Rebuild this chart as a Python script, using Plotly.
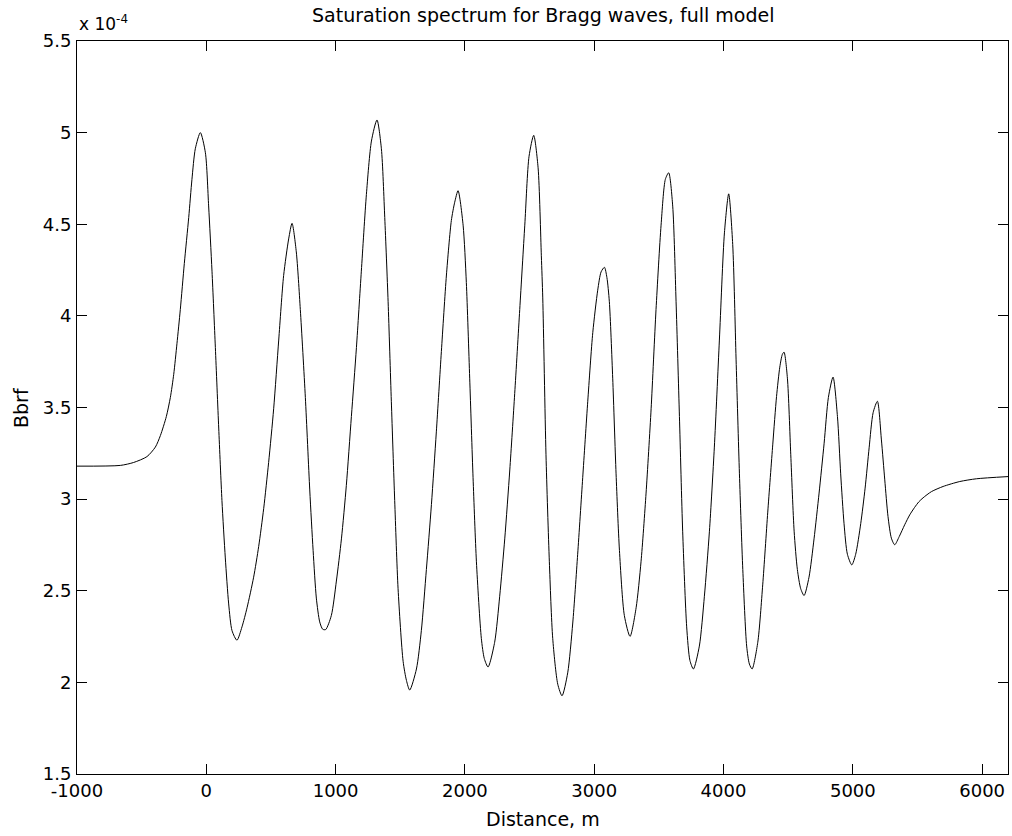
import numpy as np
import plotly.graph_objects as go

# distance along the profile, m
distance = [-1000, -665, -562, -459, -394, -355, -309, -278, -252, -227, -201, -170,
            -136, -111, -85, -46, -7, 18, 44, 70, 96, 121, 147, 173, 199, 237, 276,
            315, 366, 405, 444, 482, 521, 560, 598, 637, 663, 696, 727, 766,
            800, 826, 851, 877, 900, 923, 967, 1006, 1045, 1083, 1122, 1161, 1199, 1238,
            1277, 1320, 1354, 1380, 1406, 1431, 1457, 1483, 1522, 1548, 1573, 1625, 1663,
            1702, 1741, 1779, 1818, 1857, 1895, 1921, 1947, 1986, 2011, 2037, 2063, 2089,
            2127, 2150, 2179, 2230, 2269, 2308, 2347, 2385, 2424, 2463, 2496, 2532, 2566,
            2591, 2602, 2627, 2653, 2679, 2718, 2751, 2795, 2834, 2872, 2911, 2950,
            2989, 3027, 3053, 3079, 3098, 3117, 3143, 3169, 3195, 3233, 3277, 3324, 3362, 3401,
            3440, 3478, 3517, 3550, 3576, 3607, 3633, 3659, 3684, 3715, 3740, 3767, 3813,
            3852, 3891, 3929, 3968, 4007, 4040, 4071, 4097, 4123, 4149, 4179, 4200, 4221,
            4265, 4303, 4342, 4381, 4410, 4435, 4455, 4468, 4494, 4520, 4546, 4571, 4597,
            4623, 4661, 4700, 4739, 4778, 4811, 4847, 4881, 4906, 4932, 4958, 4992,
            5022, 5061, 5095, 5126, 5157, 5190, 5221, 5247, 5272, 5298, 5324, 5359, 5401,
            5440, 5478, 5510, 5543, 5608, 5698, 5827, 5956, 6200]

# Bbrf in units of 1e-4
bbrf_e4 = [3.180, 3.184, 3.200, 3.232, 3.284, 3.347, 3.451, 3.555, 3.681, 3.848, 4.035, 4.286,
           4.537, 4.745, 4.912, 5.000, 4.890, 4.600, 4.244, 3.827, 3.388, 2.992, 2.679, 2.428, 2.282, 2.230, 2.303,
           2.407, 2.574, 2.741, 2.950, 3.200, 3.493, 3.868, 4.220, 4.420, 4.505, 4.349, 4.035, 3.555,
           3.050, 2.720, 2.460, 2.330, 2.290, 2.288, 2.365, 2.553, 2.783, 3.075, 3.451, 3.827, 4.244, 4.662,
           4.954, 5.069, 4.912, 4.537, 4.077, 3.534, 2.992, 2.511, 2.115, 2.010, 1.958, 2.073, 2.282,
           2.616, 2.971, 3.367, 3.806, 4.223, 4.520, 4.620, 4.683, 4.495, 4.182, 3.660, 3.117, 2.658,
           2.240, 2.130, 2.084, 2.219, 2.470, 2.783, 3.159, 3.576, 4.035, 4.495, 4.871, 4.985, 4.808,
           4.328, 4.098, 3.242, 2.658, 2.240, 1.990, 1.927, 2.052, 2.324, 2.699, 3.117, 3.534,
           3.910, 4.140, 4.240, 4.265, 4.210, 4.077, 3.660, 3.138, 2.720, 2.365, 2.251, 2.407, 2.658, 3.033,
           3.493, 4.035, 4.495, 4.745, 4.781, 4.599, 4.077, 3.451, 2.825, 2.303, 2.120, 2.073, 2.198,
           2.470, 2.825, 3.284, 3.868, 4.453, 4.666, 4.390, 3.764, 3.138, 2.616, 2.198, 2.100, 2.073,
           2.219, 2.532, 2.929, 3.300, 3.560, 3.720, 3.790, 3.802, 3.660, 3.242, 2.825, 2.616, 2.511,
           2.474, 2.574, 2.783, 3.033, 3.305, 3.555, 3.666, 3.451, 3.138, 2.866, 2.699, 2.641,
           2.699, 2.866, 3.060, 3.280, 3.472, 3.534, 3.323, 3.105, 2.905, 2.787, 2.751, 2.796, 2.860,
           2.914, 2.955, 2.985, 3.007, 3.041, 3.069, 3.096, 3.111, 3.123]

x_ticks = [-1000, 0, 1000, 2000, 3000, 4000, 5000, 6000]
y_ticks_e4 = [1.5, 2, 2.5, 3, 3.5, 4, 4.5, 5, 5.5]

bbrf = np.array(bbrf_e4) * 1e-4

W, H = 1012, 836
L, R, T, B = 77, 4, 41, 62
ph = H - T - B
pw = W - L - R
font = "DejaVu Sans"


def py(p):
    # pixel row -> paper y
    return (H - B - p) / ph


def px(p):
    # pixel column -> paper x
    return (p - L) / pw


fig = go.Figure()
fig.add_trace(go.Scatter(x=distance, y=bbrf, mode="lines",
                         line=dict(color="black", width=1, shape="spline", smoothing=0.7),
                         showlegend=False))

axis = dict(showline=True, linecolor="black", linewidth=1, mirror="ticks",
            ticks="inside", ticklen=10, tickcolor="black", showgrid=False,
            zeroline=False, automargin=False,
            tickfont=dict(family=font, size=18, color="black"))

fig.update_xaxes(range=[-1000, 6200], tickvals=x_ticks,
                 ticktext=[str(v) for v in x_ticks], **axis)
fig.update_yaxes(range=[1.5e-4, 5.5e-4], tickvals=[v * 1e-4 for v in y_ticks_e4],
                 ticktext=[f"{v:g}" for v in y_ticks_e4], ticklabelstandoff=1, **axis)

fig.add_annotation(text="Saturation spectrum for Bragg waves, full model",
                   xref="paper", yref="paper", x=0.5, y=py(14.5),
                   xanchor="center", yanchor="middle", showarrow=False,
                   font=dict(family=font, size=19, color="black"))
fig.add_annotation(text="Distance, m", xref="paper", yref="paper", x=0.5, y=py(818.5),
                   xanchor="center", yanchor="middle", showarrow=False,
                   font=dict(family=font, size=19, color="black"))
fig.add_annotation(text="Bbrf", xref="paper", yref="paper", x=px(20.5),
                   y=0.5, xanchor="center", yanchor="middle", textangle=-90,
                   showarrow=False, font=dict(family=font, size=19, color="black"))
fig.add_annotation(text="x 10<sup>-4</sup>", xref="paper", yref="paper", x=0, y=py(36),
                   xanchor="left", yanchor="bottom", showarrow=False,
                   font=dict(family=font, size=17, color="black"))

fig.update_layout(width=W, height=H, margin=dict(l=L, r=R, t=T, b=B),
                  paper_bgcolor="white", plot_bgcolor="white")

# drop the default body margin so the figure fills the window
fig.write_html("out.html", config={"displayModeBar": False},
               post_script="document.body.style.margin = '0';")
